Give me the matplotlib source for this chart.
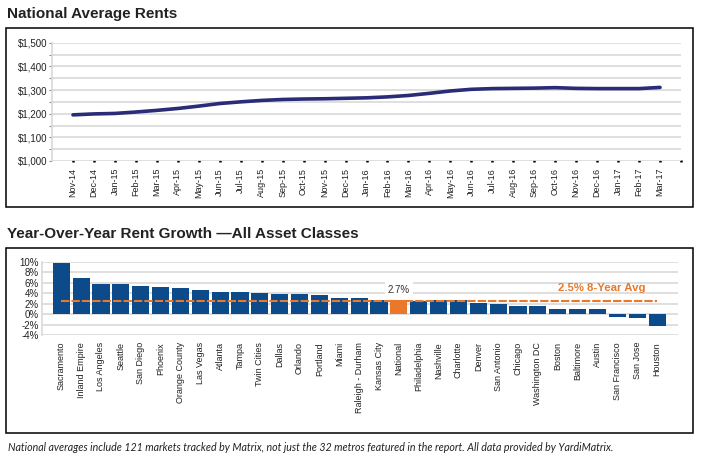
import matplotlib
matplotlib.use("Agg")
import matplotlib.pyplot as plt
from matplotlib.patches import Rectangle

# data
months = ["Nov-14", "Dec-14", "Jan-15", "Feb-15", "Mar-15", "Apr-15", "May-15", "Jun-15",
          "Jul-15", "Aug-15", "Sep-15", "Oct-15", "Nov-15", "Dec-15", "Jan-16", "Feb-16",
          "Mar-16", "Apr-16", "May-16", "Jun-16", "Jul-16", "Aug-16", "Sep-16", "Oct-16",
          "Nov-16", "Dec-16", "Jan-17", "Feb-17", "Mar-17"]
rents = [1195, 1199, 1201, 1207, 1214, 1222, 1232, 1243, 1250, 1256, 1260, 1262, 1263,
         1265, 1267, 1271, 1277, 1286, 1296, 1303, 1306, 1307, 1308, 1310, 1307, 1306,
         1306, 1306, 1311]

metros = ["Sacramento", "Inland Empire", "Los Angeles", "Seattle", "San Diego", "Phoenix",
          "Orange County", "Las Vegas", "Atlanta", "Tampa", "Twin Cities", "Dallas",
          "Orlando", "Portland", "Miami", "Raleigh - Durham", "Kansas City", "National",
          "Philadelphia", "Nashville", "Charlotte", "Denver", "San Antonio", "Chicago",
          "Washington DC", "Boston", "Baltimore", "Austin", "San Francisco", "San Jose",
          "Houston"]
growth = [9.8, 6.8, 5.7, 5.7, 5.3, 5.1, 4.9, 4.5, 4.3, 4.3, 4.1, 3.9, 3.9, 3.7, 3.1, 3.1,
          2.7, 2.7, 2.5, 2.6, 2.6, 2.2, 2.0, 1.6, 1.6, 1.0, 1.0, 1.0, -0.5, -0.8, -2.3]
avg_8yr = 2.5

W, H = 705, 463
BLUE = "#0C4A89"
ORANGE = "#E9782A"
NAVY = "#2B2C78"
GRID = "#D9D9D9"
FONT = "Liberation Sans"


def px(l, t, r, b):
    return [l / W, 1 - b / H, (r - l) / W, (b - t) / H]


fig = plt.figure(figsize=(W / 100, H / 100), dpi=100)

# frames round the two charts
for top, bot in [(28, 207), (248, 433)]:
    fig.patches.append(Rectangle((6 / W, 1 - bot / H), 687 / W, (bot - top) / H,
                                 transform=fig.transFigure, fill=False,
                                 edgecolor="black", linewidth=1.1))

fig.text(7 / W, 1 - 18 / H, "National Average Rents", fontsize=11, fontweight="bold",
         family=FONT, color="#222222", va="baseline")
fig.text(7 / W, 1 - 238 / H, "Year-Over-Year Rent Growth \u2014All Asset Classes",
         fontsize=11, fontweight="bold", family=FONT, color="#222222", va="baseline")

# --- National Average Rents ---
ax1 = fig.add_axes(px(52, 42.7, 681, 161))
x1 = list(range(len(months)))
ax1.plot(x1, rents, color=NAVY, linewidth=2.6, solid_capstyle="round", zorder=3)
ax1.set_xlim(-1, len(months))
ax1.set_ylim(1000, 1500)
yt = list(range(1000, 1501, 50))
ax1.set_yticks(yt)
ax1.set_yticklabels(["${:,}".format(v) if v % 100 == 0 else "" for v in yt])
ax1.set_xticks(list(range(len(months) + 1)))
ax1.set_xticklabels(months + [""], rotation=90)
ax1.grid(axis="y", color=GRID, linewidth=1.2)
ax1.set_axisbelow(True)
ax1.tick_params(axis="x", length=2, width=1.8, color="black", direction="inout", pad=4,
                labelsize=6.5)
ax1.tick_params(axis="y", length=2, width=0.8, color="#888888", pad=1, labelsize=7)
for s in ["top", "right", "bottom"]:
    ax1.spines[s].set_visible(False)
ax1.spines["left"].set_color(GRID)
ax1.spines["left"].set_linewidth(1.2)

# --- Year-Over-Year Rent Growth ---
ax2 = fig.add_axes(px(42, 261.7, 677.5, 335))
x2 = list(range(len(metros)))
colors = [ORANGE if m == "National" else BLUE for m in metros]
ax2.bar(x2, growth, width=0.86, color=colors, zorder=2)
ax2.plot([x2[0], x2[-1]], [avg_8yr, avg_8yr], color=ORANGE, linewidth=1.5,
         dashes=(4, 1), zorder=3)
nat = metros.index("National")
ax2.text(nat, 4.6, "{:.1f}%".format(growth[nat]), ha="center", va="center", fontsize=7,
         family=FONT, color="#333333", zorder=4,
         bbox=dict(facecolor="white", edgecolor="none", pad=2))
ax2.text(27.2, 5.0, "{:.1f}% 8-Year Avg".format(avg_8yr), ha="center", va="center",
         fontsize=8.2, fontweight="bold", family=FONT, color=ORANGE, zorder=4)
ax2.set_xlim(-0.97, len(metros) - 1 + 1.03)
ax2.set_ylim(-4, 10)
ax2.set_yticks(list(range(-4, 11, 2)))
ax2.set_yticklabels(["{}%".format(v) for v in range(-4, 11, 2)])
ax2.set_xticks(x2)
ax2.set_xticklabels(metros, rotation=90)
ax2.grid(axis="y", color=GRID, linewidth=1.2)
ax2.set_axisbelow(True)
ax2.tick_params(axis="x", length=0, pad=5, labelsize=6.5)
ax2.tick_params(axis="y", length=0, pad=2.5, labelsize=7)
for s in ["top", "right", "bottom"]:
    ax2.spines[s].set_visible(False)
ax2.spines["left"].set_color(GRID)
ax2.spines["left"].set_linewidth(1.2)

for ax in (ax1, ax2):
    for lab in ax.get_xticklabels() + ax.get_yticklabels():
        lab.set_family(FONT)
        lab.set_color("#222222")

fig.text(8 / W, 1 - 451 / H,
         "National averages include 121 markets tracked by Matrix, not just the 32 metros "
         "featured in the report. All data provided by YardiMatrix.",
         fontsize=7.7, style="italic", family="Lato", color="#222222", va="baseline")

fig.savefig("out.png", dpi=100)
